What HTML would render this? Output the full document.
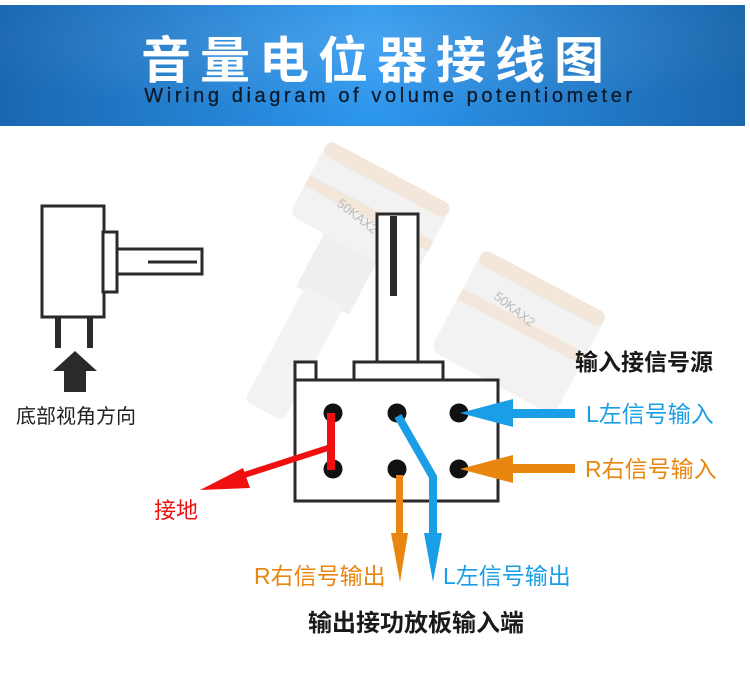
<!DOCTYPE html>
<html><head><meta charset="utf-8"><style>
html,body{margin:0;padding:0;width:750px;height:682px;background:#fff;overflow:hidden}
svg{display:block}
text{font-family:"Liberation Sans","Noto Sans CJK SC",sans-serif}
</style></head><body>
<svg width="750" height="682" viewBox="0 0 750 682">
<defs>
<linearGradient id="hg" x1="0" x2="1" y1="0" y2="0">
<stop offset="0" stop-color="#1a67b0"/><stop offset="0.5" stop-color="#2d97ee"/><stop offset="1" stop-color="#1a66ad"/>
</linearGradient>
<radialGradient id="hr" cx="0.5" cy="0.3" r="0.6"><stop offset="0" stop-color="#ffffff" stop-opacity="0.12"/><stop offset="1" stop-color="#ffffff" stop-opacity="0"/></radialGradient>
</defs>
<rect x="0" y="5" width="745" height="121" fill="url(#hg)"/>
<rect x="0" y="5" width="745" height="121" fill="url(#hr)"/>
<text x="377" y="78" text-anchor="middle" font-size="50" font-weight="bold" fill="#fff" letter-spacing="9">音量电位器接线图</text>
<text x="390" y="102" text-anchor="middle" font-size="20" fill="#0d1a2a" letter-spacing="3.6" stroke="#0d1a2a" stroke-width="0.3">Wiring diagram of volume potentiometer</text>

<!-- faint photos -->
<g opacity="0.22">
<g transform="rotate(28 360 230)">
<rect x="290" y="170" width="140" height="80" rx="10" fill="#c9c9c9"/>
<rect x="290" y="165" width="140" height="16" rx="8" fill="#c9955a"/>
<rect x="290" y="205" width="140" height="12" fill="#c9955a"/>
<rect x="330" y="250" width="60" height="60" fill="#bbb"/>
<rect x="338" y="305" width="44" height="130" rx="6" fill="#ccc"/>
</g>
<g transform="rotate(28 520 330)">
<rect x="450" y="280" width="140" height="110" rx="10" fill="#c9c9c9"/>
<rect x="450" y="275" width="140" height="16" rx="8" fill="#c9955a"/>
<rect x="450" y="320" width="140" height="12" fill="#c9955a"/>
</g>
</g>
<text x="0" y="0" font-size="13" fill="#bbb" transform="translate(336 205) rotate(38)">50KAX2</text>
<text x="0" y="0" font-size="13" fill="#bbb" transform="translate(493 298) rotate(38)">50KAX2</text>

<!-- left side diagram -->
<g fill="none" stroke="#2a2a2a" stroke-width="3">
<rect x="42" y="206" width="62" height="111"/>
<rect x="103" y="232" width="14" height="60" fill="#fff"/>
<rect x="117" y="249" width="85" height="25" fill="#fff"/>
<line x1="148" y1="262" x2="197" y2="262"/>
</g>
<rect x="55" y="318" width="6" height="30" fill="#2a2a2a"/>
<rect x="87" y="318" width="6" height="30" fill="#2a2a2a"/>
<polygon points="75,351 97,371 86,371 86,392 64,392 64,371 53,371" fill="#2a2a2a"/>
<text x="16" y="423" font-size="20" fill="#222">底部视角方向</text>

<!-- main diagram -->
<g fill="#fff" stroke="#2a2a2a" stroke-width="3">
<rect x="377" y="214" width="41" height="148"/>
<rect x="295" y="362" width="21" height="18"/>
<rect x="354" y="362" width="89" height="18"/>
<rect x="295" y="380" width="203" height="121"/>
</g>
<rect x="390" y="216" width="7" height="80" fill="#2a2a2a"/>
<g fill="#111">
<circle cx="333" cy="413" r="9.5"/><circle cx="397" cy="413" r="9.5"/><circle cx="459" cy="413" r="9.5"/>
<circle cx="333" cy="469" r="9.5"/><circle cx="397" cy="469" r="9.5"/><circle cx="459" cy="469" r="9.5"/>
</g>
<rect x="327" y="413" width="8" height="57" fill="#f01010"/>
<line x1="331" y1="447" x2="238" y2="477" stroke="#f01010" stroke-width="6"/>
<polygon points="200,490 243,468 250,488" fill="#f01010"/>
<text x="154" y="518" font-size="22" fill="#f01010">接地</text>

<rect x="505" y="409" width="70" height="9" fill="#1a9ee6"/>
<polygon points="460,413 513,399 513,427" fill="#1a9ee6"/>
<rect x="505" y="464" width="70" height="9" fill="#e8860f"/>
<polygon points="460,469 513,455 513,483" fill="#e8860f"/>

<rect x="396" y="475" width="7" height="62" fill="#e8860f"/>
<polygon points="391,533 408,533 400,582" fill="#e8860f"/>
<polyline points="398,416 433,477 433,537" fill="none" stroke="#1a9ee6" stroke-width="8"/>
<polygon points="424,533 442,533 433,582" fill="#1a9ee6"/>

<text x="575" y="370" font-size="23" font-weight="bold" fill="#1a1a1a">输入接信号源</text>
<text x="586" y="422" font-size="23" fill="#1a9ee6">L左信号输入</text>
<text x="585" y="477" font-size="23" fill="#e8860f">R右信号输入</text>
<text x="254" y="584" font-size="23" fill="#e8860f">R右信号输出</text>
<text x="443" y="584" font-size="23" fill="#1a9ee6">L左信号输出</text>
<text x="308" y="631" font-size="24" font-weight="bold" fill="#1a1a1a">输出接功放板输入端</text>
</svg>
</body></html>
